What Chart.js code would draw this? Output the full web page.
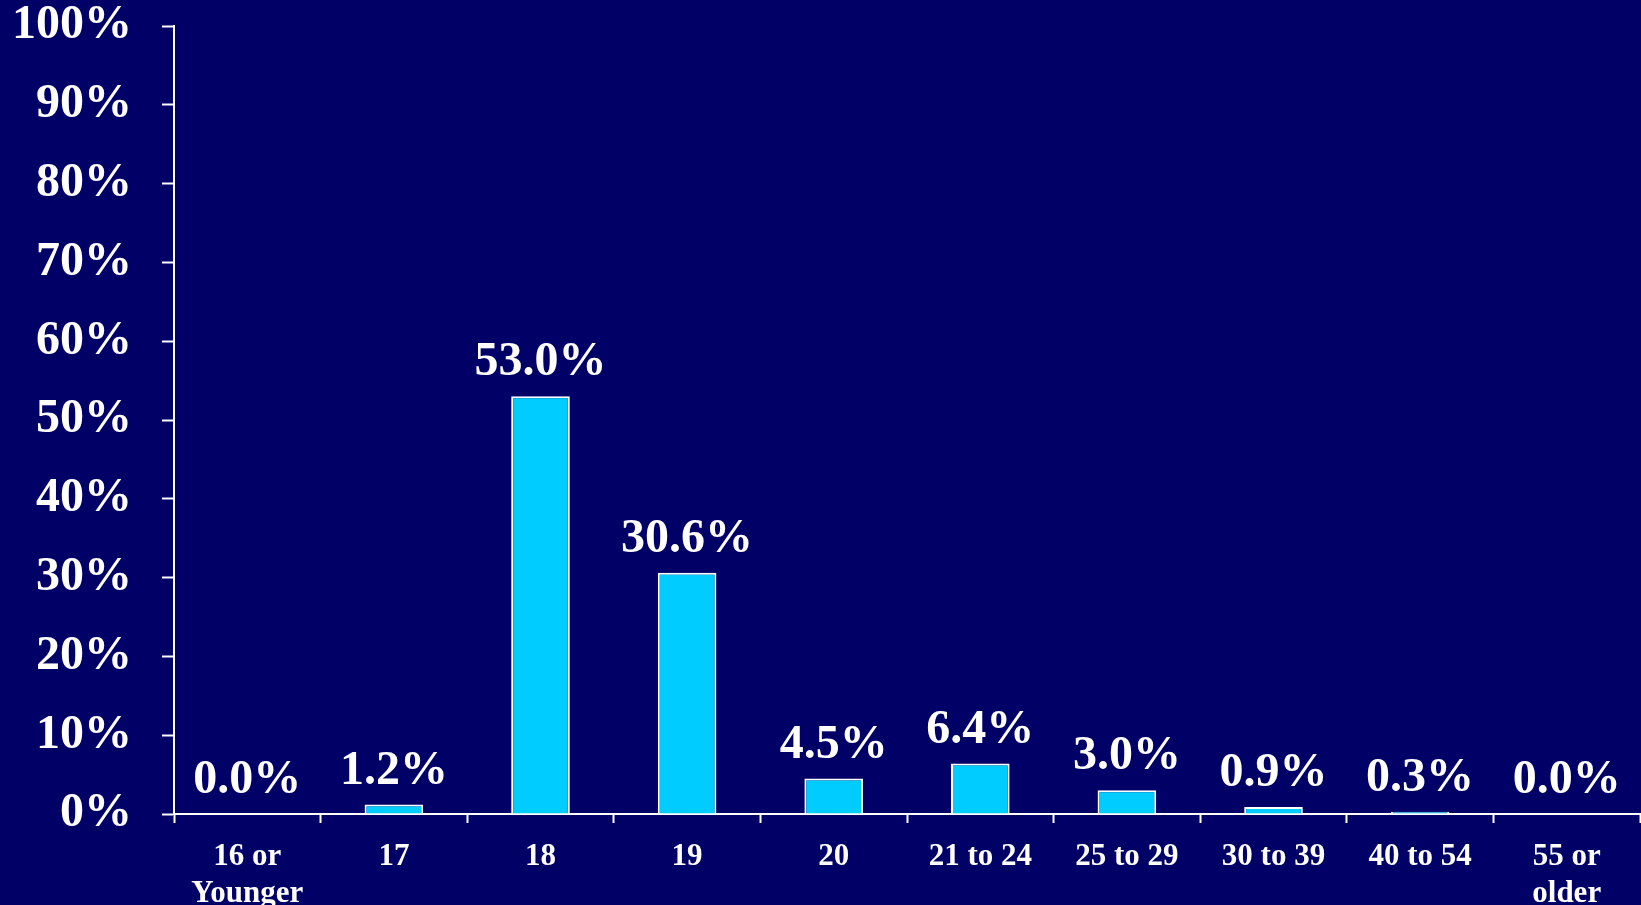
<!DOCTYPE html>
<html lang="en">
<head>
    <meta charset="UTF-8">
    <title>Age Distribution</title>
    <style>
        * {
            padding: 0;
            margin: 0;
        }
        body {
            background: #000066;
            overflow: hidden;
        }
        .wrap {
            width: 1641px;
            height: 905px;
        }
    </style>
</head>
<body>
    <div class="wrap">
        <canvas id="ageChart" width="1641" height="905"></canvas>
    </div>

    <script src="https://cdn.jsdelivr.net/npm/chart.js"></script>
    <script>
        // data
        const ageGroups = [
            ['16 or', 'Younger'], '17', '18', '19', '20',
            '21 to 24', '25 to 29', '30 to 39', '40 to 54', ['55 or', 'older']
        ];
        const percentValues = [0.0, 1.2, 53.0, 30.6, 4.5, 6.4, 3.0, 0.9, 0.3, 0.0];

        const fontFamily = '"Liberation Serif", "Times New Roman", serif';

        // small plugin for the value labels above the bars
        const valueLabels = {
            id: 'valueLabels',
            afterDatasetsDraw(chart) {
                const ctx = chart.ctx;
                const meta = chart.getDatasetMeta(0);
                ctx.save();
                ctx.fillStyle = '#ffffff';
                ctx.font = 'bold 48px ' + fontFamily;
                ctx.textAlign = 'center';
                ctx.textBaseline = 'alphabetic';
                meta.data.forEach((bar, i) => {
                    const v = chart.data.datasets[0].data[i];
                    ctx.fillText(v.toFixed(1) + '%', bar.x, bar.y - 21);
                });
                ctx.restore();
            }
        };

        new Chart(document.getElementById('ageChart'), {
            type: 'bar',
            data: {
                labels: ageGroups,
                datasets: [{
                    data: percentValues,
                    backgroundColor: '#00ccff',
                    borderColor: '#ffffff',
                    borderWidth: ctx => (ctx.raw === 0 ? 0 : 2),
                    borderSkipped: 'bottom',
                    categoryPercentage: 1.0,
                    barPercentage: 0.4
                }]
            },
            options: {
                responsive: false,
                animation: false,
                layout: {
                    padding: { top: 26, right: 1, left: 0, bottom: 0 }
                },
                plugins: {
                    legend: { display: false },
                    tooltip: { enabled: false }
                },
                scales: {
                    x: {
                        afterFit: scale => {
                            scale.height = 91;
                            scale.paddingLeft = 0;
                            scale.paddingRight = 0;
                        },
                        grid: {
                            drawOnChartArea: false,
                            drawTicks: true,
                            tickLength: 9,
                            tickWidth: 2,
                            color: '#ffffff',
                            offset: true
                        },
                        border: { color: '#ffffff', width: 2 },
                        ticks: {
                            color: '#ffffff',
                            padding: 15,
                            maxRotation: 0,
                            autoSkip: false,
                            font: { family: fontFamily, size: 31, weight: 'bold', lineHeight: 1.2 }
                        }
                    },
                    y: {
                        min: 0,
                        max: 100,
                        afterFit: scale => {
                            scale.width = 174;
                            scale.paddingTop = 0;
                            scale.paddingBottom = 0;
                        },
                        grid: {
                            drawOnChartArea: false,
                            drawTicks: true,
                            tickLength: 12,
                            tickWidth: 2,
                            color: '#ffffff'
                        },
                        border: { color: '#ffffff', width: 2 },
                        ticks: {
                            stepSize: 10,
                            color: '#ffffff',
                            padding: 30,
                            callback: v => v + '%',
                            font: { family: fontFamily, size: 48, weight: 'bold', lineHeight: 1.0 }
                        }
                    }
                }
            },
            plugins: [valueLabels]
        });
    </script>
</body>
</html>
